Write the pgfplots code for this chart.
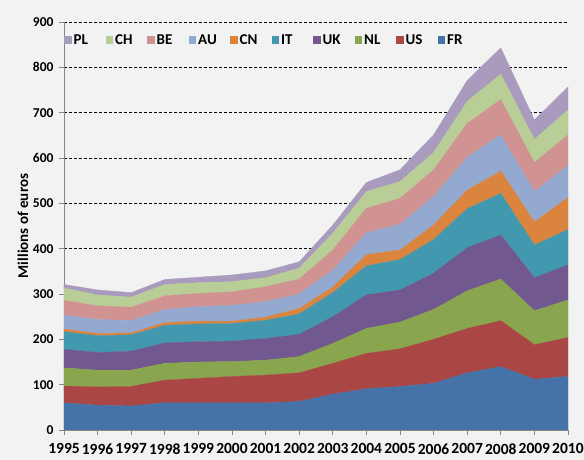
\documentclass[border=0pt]{standalone}
\usepackage{fontspec}
\setmainfont{Carlito}
\usepackage{pgfplots}
\usepackage{pgfplotstable}
\pgfplotsset{compat=1.18}
\definecolor{bggray}{HTML}{F2F2F2}
\definecolor{axgray}{HTML}{868686}
\definecolor{cFR}{HTML}{4572A7}
\definecolor{cUS}{HTML}{AA4643}
\definecolor{cNL}{HTML}{89A54E}
\definecolor{cUK}{HTML}{71588F}
\definecolor{cIT}{HTML}{4198AF}
\definecolor{cCN}{HTML}{DB843D}
\definecolor{cAU}{HTML}{93A9CF}
\definecolor{cBE}{HTML}{D19392}
\definecolor{cCH}{HTML}{B9CD96}
\definecolor{cPL}{HTML}{A99BBD}
\pgfplotstableread{
year FR  US  NL UK IT CN AU BE CH PL
1995 60  37  40 41 39 6  30 33 27 8
1996 55  40  37 39 37 5  31 30 24 11
1997 53  43  36 42 36 4  27 30 22 10
1998 60  50  37 45 39 6  29 30 25 11
1999 60  54  36 45 39 6  32 29 24 12
2000 60  58  33 45 39 5  35 30 22 15
2001 60  61  33 48 40 7  34 33 20 15
2002 63  63  36 49 45 12 32 33 24 14
2003 79  68  44 59 53 12 38 44 37 18
2004 91  78  55 74 64 25 48 54 37 20
2005 96  83  59 71 67 21 57 57 37 26
2006 103 97  66 80 74 32 63 59 38 39
2007 126 98  83 95 86 41 73 74 49 46
2008 140 101 92 97 92 49 80 78 56 58
2009 112 76  75 73 72 51 67 64 51 43
2010 118 86  83 77 78 71 71 67 55 51
}\datatable
\begin{document}
\begin{tikzpicture}
\fill[bggray] (-64pt,-30pt) rectangle (520pt,430pt);
\begin{axis}[
  at={(0pt,0pt)}, anchor=south west,
  scale only axis, width=504pt, height=408pt,
  xmin=1995, xmax=2010, ymin=0, ymax=900,
  stack plots=y,
  axis x line*=bottom, axis y line*=left,
  axis line style={-, color=axgray, line width=0.8pt},
  xtick={1995,...,2010}, ytick={0,100,...,900},
  tick align=outside, major tick length=5pt,
  tick style={color=axgray, line width=0.8pt},
  ymajorgrids, grid style={black, line width=0.6pt, dash pattern=on 3pt off 2pt},
  /pgf/number format/assume math mode=true,
  /pgf/number format/1000 sep={},
  xticklabel style={font=\fontsize{15.5}{18}\selectfont\bfseries, yshift=-5pt},
  yticklabel style={font=\fontsize{13.5}{15}\selectfont\bfseries, xshift=-2pt},
  ylabel={Millions of euros},
  ylabel style={font=\fontsize{15}{18}\selectfont\bfseries, at={(axis description cs:-0.0813,0.5)}, anchor=center},
  legend columns=10, reverse legend,
  legend style={at={(axis cs:1995,860)}, anchor=west, draw=none, fill=none,
    font=\fontsize{15}{17}\selectfont\bfseries, inner sep=0pt,
    /tikz/every even column/.append style={column sep=0pt}},
  legend image code/.code={\fill[#1,draw=none] (0pt,-4pt) rectangle (7.5pt,4pt);},
]
\addplot[fill=cFR, draw=cFR, line width=0.3pt] table[x=year,y=FR]{\datatable} \closedcycle;
\addlegendentry{\makebox[30pt][l]{FR}}
\addplot[fill=cUS, draw=cUS, line width=0.3pt] table[x=year,y=US]{\datatable} \closedcycle;
\addlegendentry{\makebox[30pt][l]{US}}
\addplot[fill=cNL, draw=cNL, line width=0.3pt] table[x=year,y=NL]{\datatable} \closedcycle;
\addlegendentry{\makebox[30pt][l]{NL}}
\addplot[fill=cUK, draw=cUK, line width=0.3pt] table[x=year,y=UK]{\datatable} \closedcycle;
\addlegendentry{\makebox[30pt][l]{UK}}
\addplot[fill=cIT, draw=cIT, line width=0.3pt] table[x=year,y=IT]{\datatable} \closedcycle;
\addlegendentry{\makebox[30pt][l]{IT}}
\addplot[fill=cCN, draw=cCN, line width=0.3pt] table[x=year,y=CN]{\datatable} \closedcycle;
\addlegendentry{\makebox[30pt][l]{CN}}
\addplot[fill=cAU, draw=cAU, line width=0.3pt] table[x=year,y=AU]{\datatable} \closedcycle;
\addlegendentry{\makebox[30pt][l]{AU}}
\addplot[fill=cBE, draw=cBE, line width=0.3pt] table[x=year,y=BE]{\datatable} \closedcycle;
\addlegendentry{\makebox[30pt][l]{BE}}
\addplot[fill=cCH, draw=cCH, line width=0.3pt] table[x=year,y=CH]{\datatable} \closedcycle;
\addlegendentry{\makebox[30pt][l]{CH}}
\addplot[fill=cPL, draw=cPL, line width=0.3pt] table[x=year,y=PL]{\datatable} \closedcycle;
\addlegendentry{\makebox[30pt][l]{PL}}
\end{axis}
\pgfresetboundingbox
\useasboundingbox (-64pt,-30pt) rectangle (520pt,430pt);
\end{tikzpicture}
\end{document}
